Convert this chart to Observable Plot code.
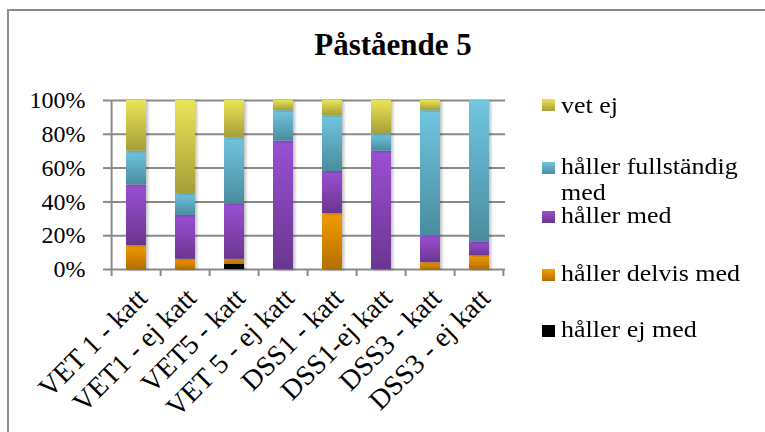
<!DOCTYPE html>
<html>
<head>
<meta charset="utf-8">
<script src="https://cdn.jsdelivr.net/npm/d3@7"></script>
<script src="https://cdn.jsdelivr.net/npm/@observablehq/plot@0.6"></script>
<style>
  html, body { margin: 0; padding: 0; background: #fff; }
  #wrap { position: relative; width: 765px; height: 432px; overflow: hidden; font-family: "Liberation Serif", "Times New Roman", serif; }
  #frame { position: absolute; left: 7px; top: 9px; width: 900px; height: 600px; border: 2px solid #8c8c8c; box-sizing: border-box; }
  #title { position: absolute; left: 0; width: 786px; top: 25px; text-align: center; font-weight: bold; font-size: 31px; line-height: 40px; color: #000; }
  #chart { position: absolute; left: 0; top: 0; }
  .lg { position: absolute; left: 542px; font-size: 23px; line-height: 25.5px; color: #000; }
  .lg .sw { position: absolute; left: 0; width: 13px; height: 12px; }
  .lg .tx { position: absolute; left: 19px; white-space: nowrap; transform: scaleX(1.13); transform-origin: 0 0; }
</style>
</head>
<body>
<div id="wrap">
  <div id="frame"></div>
  <div id="chart"></div>
  <div id="title">Påstående 5</div>
  <div id="legend"></div>
</div>
<script>
// ---- data ----
const categories = ["VET 1 - katt", "VET1 - ej katt", "VET5 - katt", "VET 5 - ej katt", "DSS1 - katt", "DSS1-ej katt", "DSS3 - katt", "DSS3 - ej katt"];
const seriesNames = ["håller ej med", "håller delvis med", "håller med", "håller fullständig med", "vet ej"];
const hallerEjMed        = [0, 0, 3, 0, 0, 0, 0, 0];
const hallerDelvisMed    = [14, 6, 3, 0, 33, 0, 4, 8];
const hallerMed          = [36, 26, 33, 76, 25, 70, 16, 8];
const hallerFullstandig  = [20, 13, 39, 18, 33, 10, 74, 84];
const vetEj              = [30, 55, 22, 6, 9, 20, 6, 0];
const yTicks = [0, 20, 40, 60, 80, 100];
// legend order (top to bottom) and labels
const legendOrder = ["vet ej", "håller fullständig med", "håller med", "håller delvis med", "håller ej med"];
const legendLabels = ["vet ej", "håller fullständig<br>med", "håller med", "håller delvis med", "håller ej med"];

// gradient colours (top, bottom) per series
const gradients = {
  "håller ej med": ["#000000", "#000000"],
  "håller delvis med": ["#f59c00", "#b46e00"],
  "håller med": ["#9b50d4", "#6a3590"],
  "håller fullständig med": ["#70c6e0", "#4a8c9e"],
  "vet ej": ["#eae457", "#a59e36"]
};

const seriesValues = [hallerEjMed, hallerDelvisMed, hallerMed, hallerFullstandig, vetEj];
const rows = [];
seriesNames.forEach((s, si) => {
  categories.forEach((c, ci) => rows.push({cat: c, series: s, value: seriesValues[si][ci]}));
});

const gridColor = "#8a8a8a";
const plot = Plot.plot({
  width: 765,
  height: 432,
  marginTop: 100,
  marginBottom: 163,
  marginLeft: 111,
  marginRight: 260,
  style: {fontFamily: "'Liberation Serif', 'Times New Roman', serif", background: "transparent", color: "#000"},
  x: {domain: categories, paddingInner: 0.59, paddingOuter: 0.295, label: null},
  y: {domain: [0, 100], label: null},
  color: {domain: seriesNames, range: seriesNames.map((s, i) => `url(#grad${i})`)},
  marks: [
    Plot.gridY(yTicks, {stroke: gridColor, strokeOpacity: 1, strokeWidth: 2}),
    Plot.barY(rows, {x: "cat", y: "value", fill: "series", order: seriesNames}),
    Plot.axisY(yTicks, {tickFormat: d => d + "%", tickSize: 8, tickPadding: 18, fontSize: 24, stroke: gridColor, strokeWidth: 2, label: null, fill: "#000"}),
    Plot.axisX({tickRotate: -45, tickSize: 0, tickPadding: 24, dx: 6, fontSize: 28, label: null, fill: "#000"})
  ]
});

// gradients & shadow
const svg = d3.select(plot);
const defs = svg.insert("defs", ":first-child");
seriesNames.forEach((s, i) => {
  const g = defs.append("linearGradient").attr("id", `grad${i}`).attr("x1", 0).attr("y1", 0).attr("x2", 0).attr("y2", 1);
  g.append("stop").attr("offset", "0%").attr("stop-color", gradients[s][0]);
  g.append("stop").attr("offset", "100%").attr("stop-color", gradients[s][1]);
});
const f = defs.append("filter").attr("id", "shadow").attr("x", "-30%").attr("y", "-10%").attr("width", "160%").attr("height", "120%");
f.append("feDropShadow").attr("dx", 2).attr("dy", 1).attr("stdDeviation", 1.5).attr("flood-color", "#000").attr("flood-opacity", 0.25);
svg.selectAll("rect").filter(function() { return (this.getAttribute("fill") || "").startsWith("url"); }).attr("filter", "url(#shadow)");

// axis line and category boundary ticks from the scales
const xs = plot.scale("x"), ys = plot.scale("y");
const y0 = ys.apply(0), y100 = ys.apply(100);
const step = xs.bandwidth / (1 - 0.59);
const gap = (step - xs.bandwidth) / 2;
const bounds = categories.map(c => xs.apply(c) - gap);
bounds.push(xs.apply(categories[categories.length - 1]) + xs.bandwidth + gap);
const extra = svg.append("g").attr("stroke", gridColor).attr("stroke-width", 2);
extra.append("line").attr("x1", bounds[0]).attr("x2", bounds[0]).attr("y1", y100).attr("y2", y0);
bounds.forEach(b => extra.append("line").attr("x1", b).attr("x2", b).attr("y1", y0).attr("y2", y0 + 7));

document.getElementById("chart").appendChild(plot);

// legend
const baselines = [113, 174, 223, 281, 337];
const legend = document.getElementById("legend");
legendOrder.forEach((s, i) => {
  const item = document.createElement("div");
  item.className = "lg";
  item.style.top = (baselines[i] - 20) + "px";
  const gcol = gradients[s];
  item.innerHTML = `<div class="sw" style="top:${i === 0 ? 6 : 8}px;background:linear-gradient(${gcol[0]},${gcol[1]})"></div><div class="tx">${legendLabels[i]}</div>`;
  legend.appendChild(item);
});
</script>
</body>
</html>
